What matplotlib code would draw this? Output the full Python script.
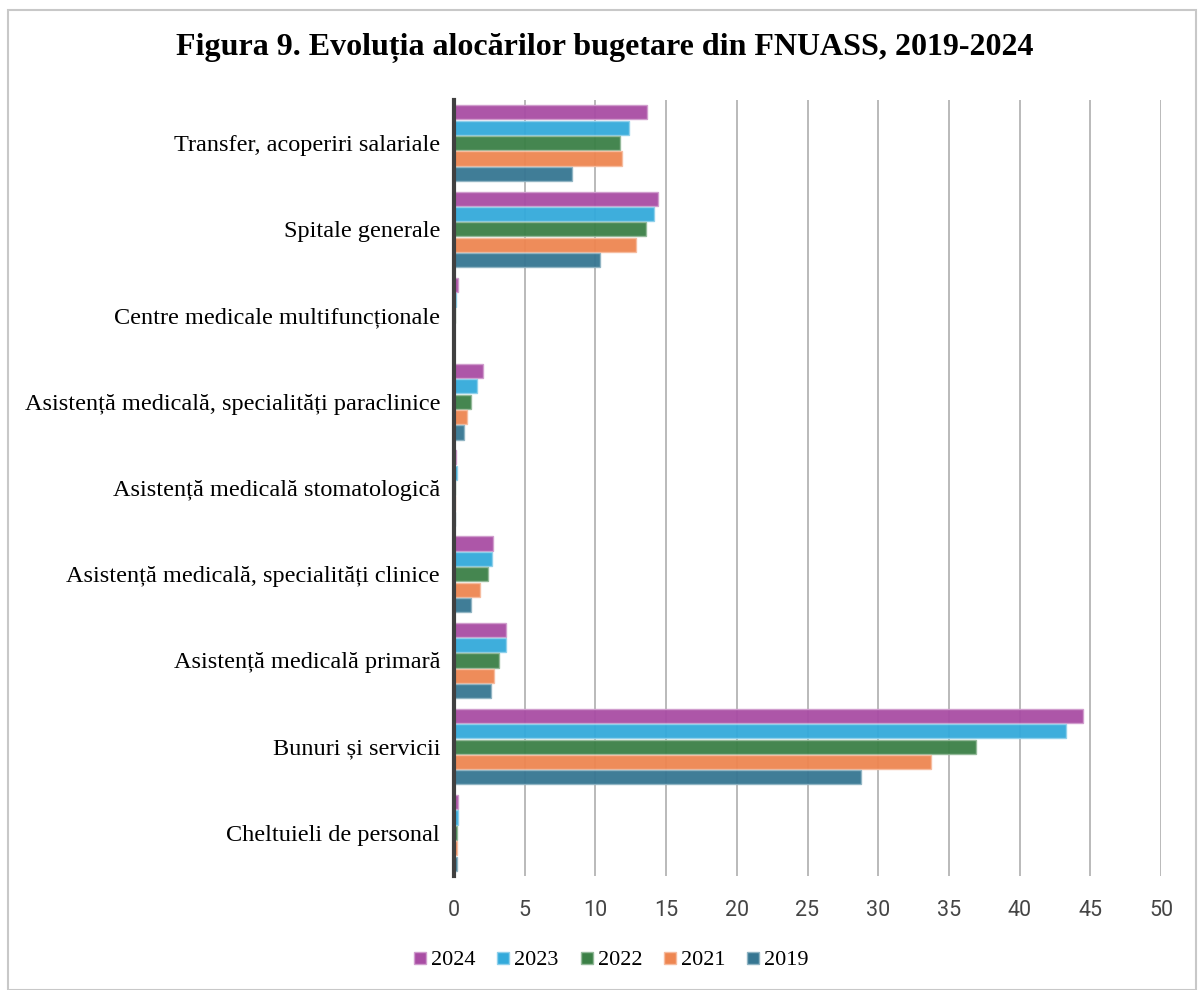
import matplotlib
matplotlib.use("Agg")
import matplotlib.pyplot as plt
import matplotlib.colors as mcolors
from matplotlib.patches import Rectangle
from matplotlib.lines import Line2D
import numpy as np

categories = [
    "Transfer, acoperiri salariale",
    "Spitale generale",
    "Centre medicale multifuncționale",
    "Asistență medicală, specialități paraclinice",
    "Asistență medicală stomatologică",
    "Asistență medicală, specialități clinice",
    "Asistență medicală primară",
    "Bunuri și servicii",
    "Cheltuieli de personal",
]
years = ["2024", "2023", "2022", "2021", "2019"]
v2024 = [13.65, 14.45, 0.3, 2.08, 0.15, 2.74, 3.66, 44.45, 0.28]
v2023 = [12.4, 14.15, 0.15, 1.6, 0.22, 2.69, 3.70, 43.25, 0.25]
v2022 = [11.75, 13.6, 0.05, 1.18, 0.1, 2.4, 3.18, 36.95, 0.2]
v2021 = [11.87, 12.86, 0.03, 0.94, 0.05, 1.84, 2.85, 33.75, 0.2]
v2019 = [8.33, 10.36, 0.03, 0.73, 0.05, 1.18, 2.6, 28.8, 0.2]
series = [v2024, v2023, v2022, v2021, v2019]
colors = ["#A94DA4", "#33AADB", "#3B8046", "#EE8651", "#367692"]
xticks = [0, 5, 10, 15, 20, 25, 30, 35, 40, 45, 50]

W, H = 1201, 990
fig = plt.figure(figsize=(W / 100, H / 100), dpi=100)

# light frame round the chart
fig.patches.append(Rectangle((8 / W, 0), (1196 - 8) / W, 1 - 10 / H,
                             transform=fig.transFigure, fill=False,
                             edgecolor="#c8c8c8", linewidth=1.5))

fig.text(0.5 * (177 + 1032) / W, 1 - 48 / H,
         "Figura 9. Evoluția alocărilor bugetare din FNUASS, 2019-2024",
         ha="center", va="center", fontsize=23, fontweight="bold",
         family="Liberation Serif")

ax = fig.add_axes([454 / W, 1 - 876 / H, (1161 - 454) / W, (876 - 100) / H])

def lighter(c):
    return tuple(0.55 * e + 0.45 for e in mcolors.to_rgb(c))

y = np.arange(len(categories))
h = 0.178
for i, (vals, c) in enumerate(zip(series, colors)):
    ax.barh(y + (i - 2) * h, vals, height=h * 0.92, color=c, alpha=0.95,
            edgecolor=lighter(c), linewidth=1.0, label=years[i], zorder=2)

ax.set_ylim(len(categories) - 0.5, -0.5)
ax.set_xlim(0, 50)
ax.set_yticks(y)
ax.set_yticklabels(categories, family="Liberation Serif", fontsize=17.5)
ax.set_xticks(xticks)
ax.set_xticklabels([str(t) for t in xticks], family="Roboto",
                   fontsize=15.5, color="#454545")
ax.tick_params(axis="y", length=0, pad=10)
ax.tick_params(axis="x", length=0, pad=17)

ax.grid(axis="x", color="#b4b4b4", linewidth=1.3, zorder=1)
ax.set_axisbelow(True)
for s in ["top", "right", "bottom"]:
    ax.spines[s].set_visible(False)
ax.spines["left"].set_color("#404040")
ax.spines["left"].set_linewidth(3)
ax.spines["left"].set_zorder(3)

handles = [Line2D([], [], marker="s", linestyle="none", markersize=8,
                  markerfacecolor=c, markeredgecolor=lighter(c))
           for c in colors]
fig.legend(handles, years, loc="center", bbox_to_anchor=(610 / W, 1 - 960 / H),
           ncol=5, frameon=False, prop={"family": "Liberation Serif", "size": 16},
           handletextpad=0.1, columnspacing=0.85, handlelength=0.8)

plt.savefig("out.png", dpi=100)
